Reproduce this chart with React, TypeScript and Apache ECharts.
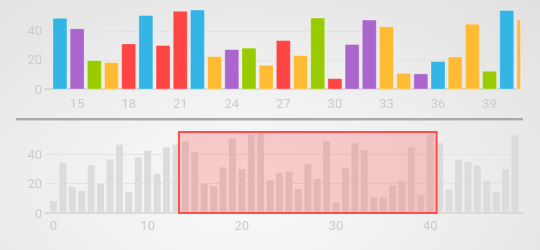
import React, { useEffect, useRef } from "react";
import * as echarts from "echarts";

const values: number[] = [
  8.2, 34.1, 17.7, 15, 32.5, 19.8, 36.4, 46.4, 14.3, 37.8,
  42.3, 26.6, 44.6, 46.4, 48.6, 41.4, 19.5, 18.2, 31, 50.6,
  29.9, 53.4, 54.3, 22.3, 27.1, 28.1, 16.3, 33.3, 23, 48.8,
  7.1, 30.6, 47.4, 42.8, 10.8, 10.4, 18.9, 22.1, 44.6, 12.2,
  54, 47.5, 15.7, 36.2, 34.8, 32.1, 22.1, 14.3, 29.6, 52.8,
];

const colorNames: string[] = [
  "blue", "purple", "green", "yellow", "red", "blue", "purple", "green", "yellow", "red",
  "blue", "purple", "green", "yellow", "blue", "purple", "green", "yellow", "red", "blue",
  "red", "red", "blue", "yellow", "purple", "green", "yellow", "red", "yellow", "green",
  "red", "purple", "purple", "yellow", "yellow", "purple", "blue", "yellow", "yellow", "green",
  "blue", "yellow", "red", "blue", "purple", "green", "yellow", "red", "blue", "purple",
];

const palette: Record<string, string> = {
  blue: "#33b5e5",
  purple: "#aa66cc",
  green: "#99cc00",
  yellow: "#ffbb33",
  red: "#ff4444",
};

const topTicks: number[] = [15, 18, 21, 24, 27, 30, 33, 36, 39];
const bottomTicks: number[] = [0, 10, 20, 30, 40];
const windowTop: [number, number] = [13.13, 40.8];
const visibleTop: [number, number] = [13.45, 40.8];
const windowBottom: [number, number] = [13.32, 40.68];
const yMax = 55;

const labelStyle = { color: "#cccccc", fontSize: 13, fontFamily: "Roboto" };

export default function App() {
  const ref = useRef<HTMLDivElement>(null);
  useEffect(() => {
    if (!ref.current) return;
    const chart = echarts.init(ref.current, undefined, { renderer: "svg" });
    const yAxisBase = (gridIndex: number) => ({
      type: "value" as const,
      gridIndex,
      min: 0,
      max: yMax,
      interval: 20,
      axisLine: { show: false },
      axisTick: { show: false },
      axisLabel: { ...labelStyle, margin: 3, showMaxLabel: false },
      splitLine: {
        show: true,
        showMinLine: false,
        showMaxLine: false,
        lineStyle: { color: "#e3e3e3", width: 1 },
      },
    });
    chart.setOption({
      animation: false,
      backgroundColor: "transparent",
      grid: [
        { left: 45, right: 19.5, top: 9, bottom: 161 },
        { left: 45, right: 17, top: 132, bottom: 37 },
      ],
      xAxis: [
        {
          type: "value",
          gridIndex: 0,
          min: windowTop[0],
          max: windowTop[1],
          axisLine: { show: true, lineStyle: { color: "#d2d2d2", width: 1.5 } },
          axisTick: { show: false },
          splitLine: { show: false },
          axisLabel: { ...labelStyle, margin: 8, customValues: topTicks },
        },
        {
          type: "value",
          gridIndex: 1,
          min: -0.9,
          max: 49.85,
          axisLine: { show: true, lineStyle: { color: "#d2d2d2", width: 1.5 } },
          axisTick: { show: false },
          splitLine: { show: false },
          axisLabel: { ...labelStyle, margin: 6, customValues: bottomTicks },
        },
      ],
      yAxis: [yAxisBase(0), yAxisBase(1)],
      graphic: [
        { type: "rect", shape: { x: 16, y: 118, width: 507, height: 2 }, style: { fill: "#a9a9a9" }, silent: true },
        { type: "rect", shape: { x: 16, y: 120, width: 507, height: 1 }, style: { fill: "#d0d0d0" }, silent: true },
      ],
      series: [
        {
          type: "custom",
          xAxisIndex: 0,
          yAxisIndex: 0,
          encode: { x: 0, y: 1 },
          data: values.map((v, i) => [i, v]),
          renderItem: (params: any, api: any) => {
            const x = api.value(0);
            const y = api.value(1);
            const base = api.coord([x, 0]);
            const top = api.coord([x, y]);
            const w = 14;
            const rect = { x: base[0] - w / 2, y: top[1], width: w, height: base[1] - top[1] };
            const cs = params.coordSys;
            const left = api.coord([visibleTop[0], 0])[0];
            const right = api.coord([visibleTop[1], 0])[0];
            const clipped = echarts.graphic.clipRectByRect(rect, {
              x: left,
              y: cs.y,
              width: right - left,
              height: cs.height,
            });
            if (!clipped) return null;
            return {
              type: "rect",
              shape: clipped,
              style: {
                fill: palette[colorNames[params.dataIndex]],
                stroke: "rgba(255,255,255,0.3)",
                lineWidth: 1,
              },
            };
          },
        },
        {
          type: "bar",
          xAxisIndex: 1,
          yAxisIndex: 1,
          barWidth: 7,
          itemStyle: { color: "#dcdcdc" },
          data: values.map((v, i) => [i, v]),
        },
        {
          type: "line",
          xAxisIndex: 1,
          yAxisIndex: 1,
          z: 10,
          data: [],
          silent: true,
          markArea: {
            z: 10,
            silent: true,
            itemStyle: {
              color: "rgba(255,80,80,0.27)",
              borderColor: "#ff4d4d",
              borderWidth: 2,
            },
            data: [[{ coord: [windowBottom[0], 0] }, { coord: [windowBottom[1], yMax] }]],
          },
        },
      ],
    });
    return () => chart.dispose();
  }, []);
  return (
    <div
      style={{
        position: "fixed",
        left: 0,
        top: 0,
        width: 540,
        height: 250,
        background: "radial-gradient(ellipse at 45% 75%, #fafafa 0%, #eeeeee 50%, #e0e0e0 100%)",
      }}
    >
      <div ref={ref} style={{ width: 540, height: 250 }} />
    </div>
  );
}
